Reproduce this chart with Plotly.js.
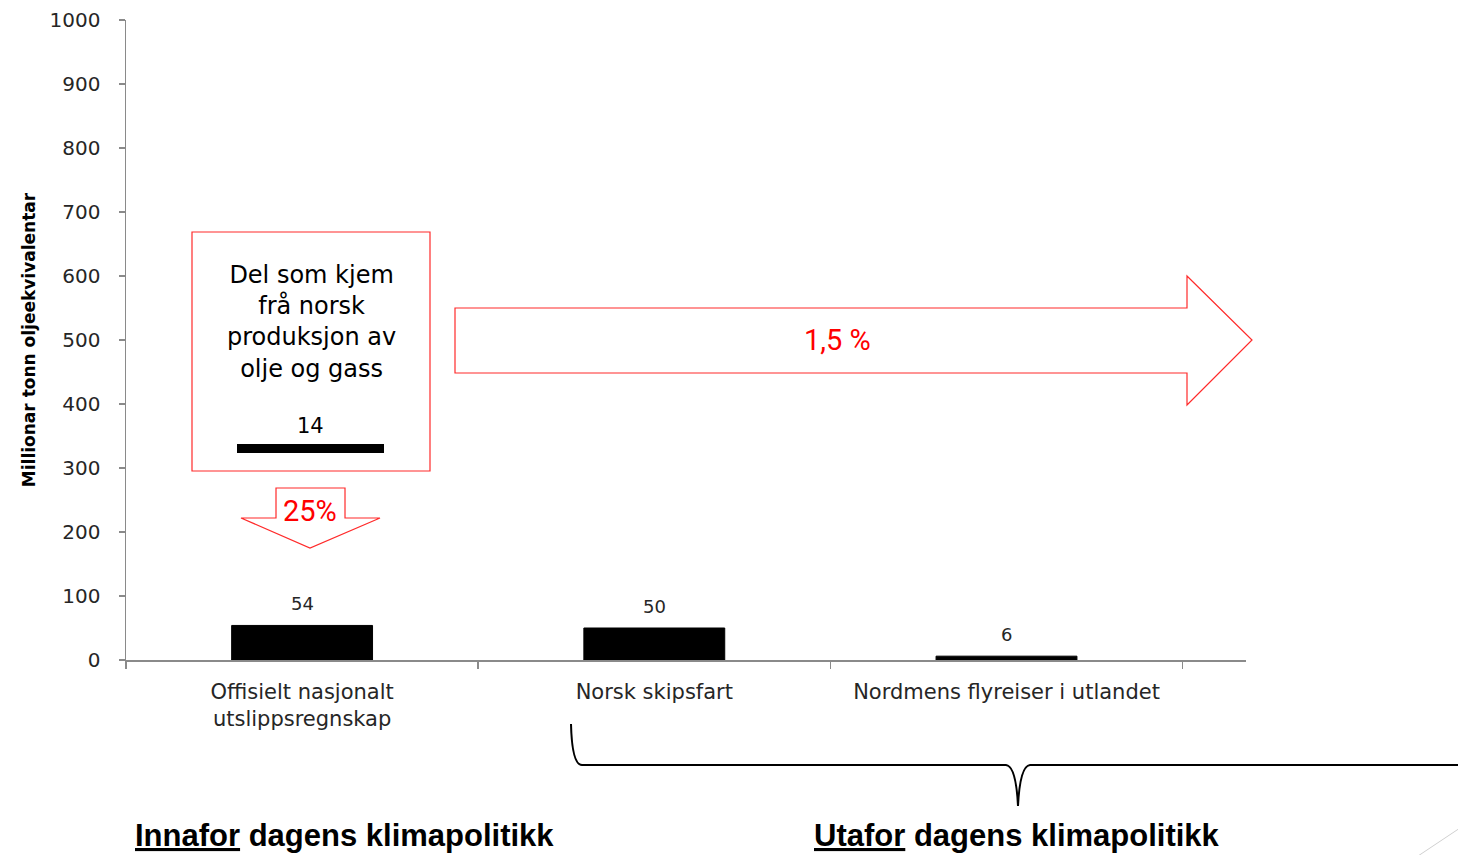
<!DOCTYPE html>
<html>
<head>
<meta charset="utf-8">
<script src="https://cdn.plot.ly/plotly-3.0.1.min.js"></script>
<style>html,body{margin:0;padding:0;background:#fff;}#chart{width:1458px;height:855px;}</style>
</head>
<body>
<div id="chart"></div>
<script>
// ---- data ----
const categories = ['Offisielt nasjonalt<br>utslippsregnskap', 'Norsk skipsfart', 'Nordmens flyreiser i utlandet'];
const values = [54, 50, 6];
const yTicks = [0, 100, 200, 300, 400, 500, 600, 700, 800, 900, 1000];
const oilGasShare = 14;
const boxText = 'Del som kjem<br>frå norsk<br>produksjon av<br>olje og gass';
const shareNational = '25%';
const shareGlobal = '1,5 %';
const yTitle = 'Millionar tonn oljeekvivalentar';
const innaforText = '<span style="text-decoration:underline">Innafor</span> dagens klimapolitikk';
const utaforText = '<span style="text-decoration:underline">Utafor</span> dagens klimapolitikk';

// ---- layout helpers (pixel -> paper) ----
const ML = 126, MT = 20, PW = 1120, PH = 640;
const px = x => (x - ML) / PW;
const py = y => (MT + PH - y) / PH;
const pathOf = pts => pts.map((p, i) => (i ? 'L' : 'M') + px(p[0]).toFixed(5) + ',' + py(p[1]).toFixed(5)).join(' ') + ' Z';

const red = '#ff2a2a';
const axisGray = '#8a8a8a';
const narrow = 'Roboto, Liberation Sans Narrow, sans-serif';

const trace = {
  type: 'bar',
  x: categories,
  y: values,
  width: 0.4,
  marker: {color: '#000000', line: {color: '#000000', width: 1}},
  hoverinfo: 'skip'
};

const annotations = categories.map((c, i) => ({
  x: c, y: values[i], xref: 'x', yref: 'y',
  text: String(values[i]), showarrow: false,
  yanchor: 'bottom', yshift: 9,
  font: {family: 'DejaVu Sans, Verdana, sans-serif', size: 18, color: '#262626'}
}));

annotations.push(
  {xref: 'paper', yref: 'paper', x: px(311), y: py(322), text: boxText, showarrow: false,
   xanchor: 'center', yanchor: 'middle', align: 'center',
   font: {family: 'DejaVu Sans, sans-serif', size: 24, color: '#000'}},
  {xref: 'paper', yref: 'paper', x: px(310), y: py(426), text: String(oilGasShare), showarrow: false,
   xanchor: 'center', yanchor: 'middle',
   font: {family: 'DejaVu Sans, sans-serif', size: 21, color: '#000'}},
  {xref: 'paper', yref: 'paper', x: px(310), y: py(511), text: shareNational, showarrow: false,
   xanchor: 'center', yanchor: 'middle',
   font: {family: narrow, size: 29, color: '#ff0000'}},
  {xref: 'paper', yref: 'paper', x: px(837), y: py(340), text: shareGlobal, showarrow: false,
   xanchor: 'center', yanchor: 'middle',
   font: {family: narrow, size: 29, color: '#ff0000'}},
  {xref: 'paper', yref: 'paper', x: px(133), y: py(835), text: innaforText, showarrow: false,
   xanchor: 'left', yanchor: 'middle',
   font: {family: 'Liberation Sans, Arial, sans-serif', size: 31, color: '#000', weight: 'bold'}},
  {xref: 'paper', yref: 'paper', x: px(812), y: py(835), text: utaforText, showarrow: false,
   xanchor: 'left', yanchor: 'middle',
   font: {family: 'Liberation Sans, Arial, sans-serif', size: 31, color: '#000', weight: 'bold'}}
);

const shapes = [
  // text box
  {type: 'rect', xref: 'paper', yref: 'paper', x0: px(192), x1: px(430), y0: py(471), y1: py(232),
   line: {color: red, width: 1.2}, fillcolor: 'rgba(0,0,0,0)'},
  // mini bar inside the box
  {type: 'rect', xref: 'paper', yref: 'paper', x0: px(237), x1: px(384), y0: py(453), y1: py(444),
   line: {width: 0}, fillcolor: '#000'},
  // down arrow
  {type: 'path', xref: 'paper', yref: 'paper',
   path: pathOf([[276,488],[345,488],[345,518],[380,518],[310,548],[241,518],[276,518]]),
   line: {color: red, width: 1.2}, fillcolor: 'rgba(0,0,0,0)'},
  // right arrow
  {type: 'path', xref: 'paper', yref: 'paper',
   path: pathOf([[455,308],[1187,308],[1187,276],[1252,340],[1187,405],[1187,373],[455,373]]),
   line: {color: red, width: 1.2}, fillcolor: 'rgba(0,0,0,0)'},
  // curly bracket
  {type: 'path', xref: 'paper', yref: 'paper',
   path: 'M' + px(571) + ',' + py(724) + ' Q' + px(572) + ',' + py(765) + ' ' + px(582) + ',' + py(765) +
         ' L' + px(1006) + ',' + py(765) + ' Q' + px(1016) + ',' + py(766) + ' ' + px(1018) + ',' + py(806) +
         ' Q' + px(1020) + ',' + py(766) + ' ' + px(1030) + ',' + py(765) + ' L' + px(1460) + ',' + py(765),
   line: {color: '#000', width: 2}},
  // faint slide decoration
  {type: 'line', xref: 'paper', yref: 'paper', x0: px(1418), y0: py(856), x1: px(1460), y1: py(828),
   line: {color: '#d0d0d0', width: 1}}
];

const layout = {
  width: 1458, height: 855,
  margin: {l: ML, r: 1458 - ML - PW, t: MT, b: 855 - MT - PH, pad: 0},
  paper_bgcolor: '#fff', plot_bgcolor: '#fff',
  showlegend: false,
  xaxis: {
    type: 'category', range: [-0.5, 2.68], tickson: 'boundaries',
    showline: true, linecolor: axisGray, linewidth: 1.5,
    ticks: 'outside', ticklen: 7, tickcolor: axisGray, tickwidth: 1.5,
    showgrid: false, zeroline: false, fixedrange: true,
    tickfont: {family: 'DejaVu Sans, Verdana, sans-serif', size: 21, color: '#262626'},
    ticklabelstandoff: 12
  },
  yaxis: {
    range: [0, 1000], tickmode: 'array', tickvals: yTicks, ticktext: yTicks.map(String),
    showline: true, linecolor: axisGray, linewidth: 1.5,
    ticks: 'outside', ticklen: 6, tickcolor: axisGray, tickwidth: 1.5,
    showgrid: false, zeroline: false, fixedrange: true,
    tickfont: {family: 'DejaVu Sans, Verdana, sans-serif', size: 20, color: '#262626'},
    ticklabelstandoff: 14,
    title: {text: yTitle, standoff: 9,
            font: {family: 'DejaVu Sans, sans-serif', size: 17, color: '#000', weight: 'bold'}}
  },
  shapes: shapes,
  annotations: annotations,
  bargap: 0.6
};

Plotly.newPlot('chart', [trace], layout, {staticPlot: true, displayModeBar: false});
</script>
</body>
</html>
